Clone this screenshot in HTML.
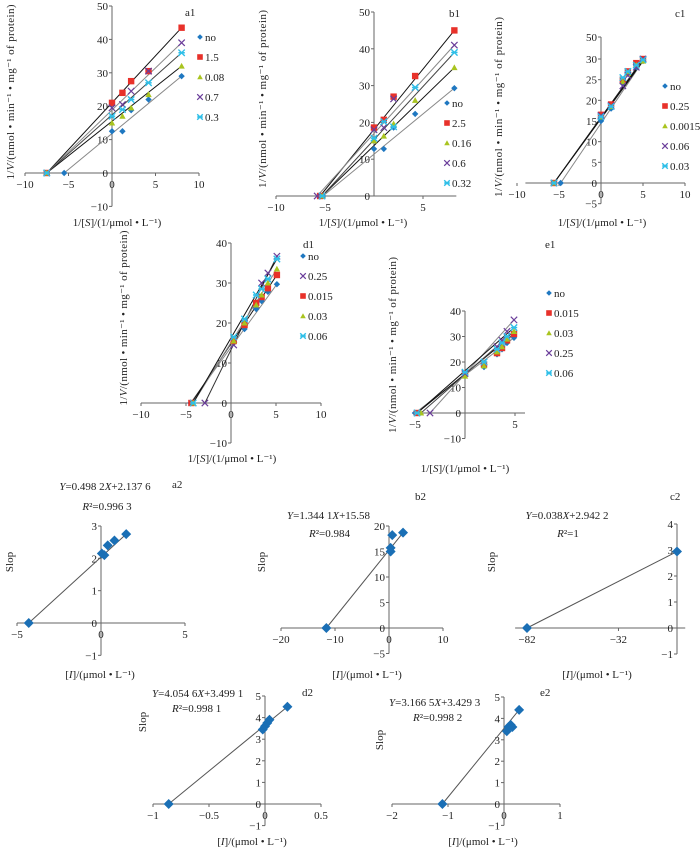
<!DOCTYPE html>
<html><head><meta charset="utf-8"><style>
html,body{margin:0;padding:0;background:#fff;}
svg{display:block;font-family:"Liberation Serif","Noto Serif CJK SC",serif;}
text{font-size:11px;fill:#222;}
</style></head><body>
<svg id="fig" width="700" height="850" viewBox="0 0 700 850" xmlns="http://www.w3.org/2000/svg">
<g id="static">
  <!-- panel titles -->
  <text x="185" y="16">a1</text>
  <text x="449" y="17">b1</text>
  <text x="675" y="17">c1</text>
  <text x="303" y="248">d1</text>
  <text x="545" y="248">e1</text>
  <text x="172" y="488">a2</text>
  <text x="415" y="500">b2</text>
  <text x="670" y="500">c2</text>
  <text x="302" y="696">d2</text>
  <text x="540" y="696">e2</text>

  <!-- y-axis titles (rotated) -->
  <text transform="translate(14,92) rotate(-90)" text-anchor="middle" textLength="175" lengthAdjust="spacing">1/<tspan font-style="italic">V</tspan>/(nmol • min⁻¹ • mg⁻¹ of protein)</text>
  <text transform="translate(266,99) rotate(-90)" text-anchor="middle" textLength="178" lengthAdjust="spacing">1/<tspan font-style="italic">V</tspan>/(nmol • min⁻¹ • mg⁻¹ of protein)</text>
  <text transform="translate(502,107) rotate(-90)" text-anchor="middle" textLength="180" lengthAdjust="spacing">1/<tspan font-style="italic">V</tspan>/(nmol • min⁻¹ • mg⁻¹ of protein)</text>
  <text transform="translate(127,318) rotate(-90)" text-anchor="middle" textLength="175" lengthAdjust="spacing">1/<tspan font-style="italic">V</tspan>/(nmol • min⁻¹ • mg⁻¹ of protein)</text>
  <text transform="translate(396,345) rotate(-90)" text-anchor="middle" textLength="176" lengthAdjust="spacing">1/<tspan font-style="italic">V</tspan>/(nmol • min⁻¹ • mg⁻¹ of protein)</text>

  <!-- x-axis titles -->
  <text x="117" y="226" text-anchor="middle">1/[<tspan font-style="italic">S</tspan>]/(1/μmol • L⁻¹)</text>
  <text x="363" y="226" text-anchor="middle">1/[<tspan font-style="italic">S</tspan>]/(1/μmol • L⁻¹)</text>
  <text x="602" y="226" text-anchor="middle">1/[<tspan font-style="italic">S</tspan>]/(1/μmol • L⁻¹)</text>
  <text x="232" y="462" text-anchor="middle">1/[<tspan font-style="italic">S</tspan>]/(1/μmol • L⁻¹)</text>
  <text x="465" y="472" text-anchor="middle">1/[<tspan font-style="italic">S</tspan>]/(1/μmol • L⁻¹)</text>
  <text x="100" y="678" text-anchor="middle">[<tspan font-style="italic">I</tspan>]/(μmol • L⁻¹)</text>
  <text x="367" y="678" text-anchor="middle">[<tspan font-style="italic">I</tspan>]/(μmol • L⁻¹)</text>
  <text x="597" y="678" text-anchor="middle">[<tspan font-style="italic">I</tspan>]/(μmol • L⁻¹)</text>
  <text x="252" y="845" text-anchor="middle">[<tspan font-style="italic">I</tspan>]/(μmol • L⁻¹)</text>
  <text x="483" y="845" text-anchor="middle">[<tspan font-style="italic">I</tspan>]/(μmol • L⁻¹)</text>

  <!-- Slop labels -->
  <text transform="translate(13,562) rotate(-90)" text-anchor="middle">Slop</text>
  <text transform="translate(265,562) rotate(-90)" text-anchor="middle">Slop</text>
  <text transform="translate(495,562) rotate(-90)" text-anchor="middle">Slop</text>
  <text transform="translate(146,722) rotate(-90)" text-anchor="middle">Slop</text>
  <text transform="translate(383,740) rotate(-90)" text-anchor="middle">Slop</text>

  <!-- equations -->
  <text x="105" y="490" text-anchor="middle"><tspan font-style="italic">Y</tspan>=0.498 2<tspan font-style="italic">X</tspan>+2.137 6</text>
  <text x="107" y="510" text-anchor="middle"><tspan font-style="italic">R</tspan>²=0.996 3</text>
  <text x="287" y="519"><tspan font-style="italic">Y</tspan>=1.344 1<tspan font-style="italic">X</tspan>+15.58</text>
  <text x="309" y="537"><tspan font-style="italic">R</tspan>²=0.984</text>
  <text x="567" y="519" text-anchor="middle"><tspan font-style="italic">Y</tspan>=0.038<tspan font-style="italic">X</tspan>+2.942 2</text>
  <text x="568" y="537" text-anchor="middle"><tspan font-style="italic">R</tspan>²=1</text>
  <text x="152" y="697"><tspan font-style="italic">Y</tspan>=4.054 6<tspan font-style="italic">X</tspan>+3.499 1</text>
  <text x="172" y="712"><tspan font-style="italic">R</tspan>²=0.998 1</text>
  <text x="389" y="706"><tspan font-style="italic">Y</tspan>=3.166 5<tspan font-style="italic">X</tspan>+3.429 3</text>
  <text x="413" y="721"><tspan font-style="italic">R</tspan>²=0.998 2</text>
</g>
<g id="plots"></g>
</svg>
<script>
// ===== data =====
// a1
const a1Names = ["no","1.5","0.08","0.7","0.3"];
const a1X = [0,1.2,2.2,4.2,8];
const a1Intercepts = [-5.5,-7.5,-7.5,-7.5,-7.5];
const a1No = [12.5,12.5,18.8,22,29];
const a1S15 = [21,24,27.5,30.5,43.5];
const a1S008 = [15,17,19.5,23.5,32];
const a1S07 = [19.5,20.5,24.5,30.5,39];
const a1S03 = [17,19,22,27,36];
// b1
const b1Names = ["no","2.5","0.16","0.6","0.32"];
const b1X = [0,1,2,4.2,8.2];
const b1Intercepts = [-5.2,-5.5,-5.3,-5.8,-5.3];
const b1No = [12.8,12.8,18.6,22.3,29.3];
const b1S25 = [18.6,20.7,27,32.6,45];
const b1S016 = [15,16.3,19.6,26,34.9];
const b1S06 = [18,18.6,26.4,29.5,41];
const b1S032 = [15.7,20.2,18.8,29.5,39];
// c1
const c1Names = ["no","0.25","0.0015","0.06","0.03"];
const c1X = [0,1.2,2.6,3.2,4.2,5];
const c1Intercepts = [-4.8,-5.6,-5.6,-5.6,-5.6];
const c1No = [15,18,24,26.5,28,29.5];
const c1S025 = [16.5,19,25,27,29,30];
const c1S0015 = [16,18.5,24.5,26.5,28.5,29.5];
const c1S006 = [16.3,18.7,23.5,26,28,30];
const c1S003 = [16,18.5,25.5,27,28.5,29.8];
// d1
const d1Names = ["no","0.25","0.015","0.03","0.06"];
const d1X = [0.3,1.5,2.8,3.4,4.1,5.1];
const d1Intercepts = [-4.5,-2.9,-4.4,-4.2,-4.2];
const d1No = [15,18.5,23.5,25.5,27.8,29.7];
const d1S025 = [14.5,20,24.5,30,32.5,36.7];
const d1S0015 = [15.5,19.5,25,26.5,28.7,32];
const d1S003 = [15.5,20,24.5,27,30,33.5];
const d1S006 = [16.5,21,27,28.5,31,36];
// e1
const e1Names = ["no","0.015","0.03","0.25","0.06"];
const e1X = [0,1.9,3.2,3.7,4.2,4.9];
const e1Intercepts = [-5,-4.8,-4.4,-3.5,-4.8];
const e1No = [15.5,18,23,25,27.5,29.5];
const e1S0015 = [15.5,19,23.5,25.5,28.5,31];
const e1S003 = [14.5,18.5,24,26,29,32];
const e1S025 = [15.5,20,26,28.5,32,36.5];
const e1S006 = [16,20,25,27.5,30,33.5];
// secondary plots
const a2X = [-4.3,0.05,0.2,0.4,0.8,1.5];
const a2Y = [0,2.15,2.1,2.4,2.55,2.75];
const b2X = [-11.6,0.3,0.3,0.6,2.6];
const b2Y = [0,15,15.7,18.2,18.7];
const c2X = [-82,0];
const c2Y = [0,2.94];
const d2X = [-0.86,-0.02,0,0.02,0.04,0.2];
const d2Y = [0,3.45,3.6,3.75,3.9,4.5];
const e2X = [-1.1,0.05,0.08,0.12,0.15,0.27];
const e2Y = [0,3.4,3.6,3.7,3.6,4.4];

// ===== drawing helpers =====
const NS = "http://www.w3.org/2000/svg";
const root = document.getElementById("plots");
function lin(d0,d1,p0,p1){ return v => p0 + (v-d0)*(p1-p0)/(d1-d0); }
function mk(tag, attrs, parent){
  const e = document.createElementNS(NS, tag);
  for (const k in attrs) e.setAttribute(k, attrs[k]);
  (parent||root).appendChild(e);
  return e;
}
const COLORS = {diamond:"#1f78c1", square:"#e8312a", triangle:"#a9c41f", cross:"#6a3d9a", star:"#2fbfe8"};
function marker(g, type, x, y, s){
  s = s || 3.2;
  let e;
  if (type==="diamond"){
    e = mk("polygon",{points:`${x},${y-s} ${x+s},${y} ${x},${y+s} ${x-s},${y}`, fill:COLORS.diamond}, g);
  } else if (type==="square"){
    e = mk("rect",{x:x-s,y:y-s,width:2*s,height:2*s,fill:COLORS.square}, g);
  } else if (type==="triangle"){
    e = mk("polygon",{points:`${x},${y-s} ${x+s},${y+s*0.8} ${x-s},${y+s*0.8}`, fill:COLORS.triangle}, g);
  } else if (type==="cross"){
    e = mk("path",{d:`M${x-s},${y-s}L${x+s},${y+s}M${x-s},${y+s}L${x+s},${y-s}`, stroke:COLORS.cross, "stroke-width":1.2, fill:"none"}, g);
  } else {
    e = mk("path",{d:`M${x-s},${y-s}L${x+s},${y+s}M${x-s},${y+s}L${x+s},${y-s}M${x-s},${y}L${x+s},${y}`, stroke:COLORS.star, "stroke-width":1.4, fill:"none"}, g);
  }
  
  
  return e;
}
function axes(g, sx, sy, xr, yr, xticks, yticks, opt){
  opt = opt || {};
  const x0 = sx(0 < xr[0] || 0 > xr[1] ? xr[1] : 0);
  const yx = opt.yAxisX !== undefined ? opt.yAxisX : sx(0);
  const xa = mk("line",{x1:sx(xr[0]),x2:sx(xr[1]),y1:sy(0),y2:sy(0),stroke:"#666","stroke-width":1}, g);
  
  
  const ya = mk("line",{x1:yx,x2:yx,y1:opt.yTopPx!==undefined?opt.yTopPx:sy(yr[1]),y2:sy(yr[0]),stroke:"#666","stroke-width":1}, g);
  
  
  xticks.forEach(v=>{
    const px = sx(v);
    mk("line",{x1:px,x2:px,y1:sy(0),y2:sy(0)+3,stroke:"#666"}, g);
    const t = mk("text",{x:px,y:sy(0)+15,"text-anchor":"middle"}, g);
    t.textContent = (v<0?"−":"") + Math.abs(v);
    
    
  });
  yticks.forEach(v=>{
    const py = sy(v);
    mk("line",{x1:yx-3,x2:yx,y1:py,y2:py,stroke:"#666"}, g);
    const t = mk("text",{x:yx-4,y:py+4,"text-anchor":"end"}, g);
    t.textContent = (v<0?"−":"") + Math.abs(v);
    
    
  });
}
function lbPanel(id, sx, sy, names, xs, intercepts, series, types, legendX, legendY0, legendDy, lineColors){
  const g = mk("g",{});
  
  
  series.forEach((ys,i)=>{
    const lastX = xs[xs.length-1], lastY = ys[ys.length-1];
    const l = mk("line",{x1:sx(intercepts[i]),y1:sy(0),x2:sx(lastX),y2:sy(lastY),stroke:lineColors[i],"stroke-width":1}, g);
    
    
  });
  series.forEach((ys,i)=>{
    marker(g, types[i], sx(intercepts[i]), sy(0));
    ys.forEach((y,j)=>marker(g, types[i], sx(xs[j]), sy(y)));
  });
  names.forEach((n,i)=>{
    const lg = mk("g",{}, g);
    
    
    const y = legendY0 + i*legendDy;
    marker(lg, types[i], legendX, y, 2.8);
    const t = mk("text",{x:legendX+5,y:y+4}, lg);
    t.textContent = n;
  });
  return g;
}
function secPanel(id, sx, sy, xs, ys, fitFrom, fitTo){
  const g = mk("g",{});
  
  
  const l = mk("line",{x1:sx(fitFrom[0]),y1:sy(fitFrom[1]),x2:sx(fitTo[0]),y2:sy(fitTo[1]),stroke:"#555","stroke-width":1}, g);
  
  
  xs.forEach((x,i)=>{
    const p = marker(g, "diamond", sx(x), sy(ys[i]), 5);
    p.setAttribute('fill', '#1a6fb5');
  });
  return g;
}
const T5 = ["diamond","square","triangle","cross","star"];
const LC = ["#888","#111","#111","#888","#444"];

// a1
{ const sx = lin(0,10,112,199), sy = lin(0,50,173,6);
  const g = mk("g",{});  
  axes(g, sx, sy, [-10,10], [-10,50], [-10,-5,0,5,10], [-10,0,10,20,30,40,50]);
  lbPanel("a1", sx, sy, a1Names, a1X, a1Intercepts, [a1No,a1S15,a1S008,a1S07,a1S03], T5, 200, 37, 20, LC); }
// b1
{ const sx = lin(0,5,374,423), sy = lin(0,50,196,12);
  const g = mk("g",{});  
  axes(g, sx, sy, [-10,8.4], [0,50], [-10,-5,5], [0,10,20,30,40,50]);
  lbPanel("b1", sx, sy, b1Names, b1X, b1Intercepts, [b1No,b1S25,b1S016,b1S06,b1S032], ["diamond","square","triangle","cross","star"], 447, 103, 20, LC); }
// c1
{ const sx = lin(0,5,601,643), sy = lin(0,30,183,59);
  const g = mk("g",{});  
  axes(g, sx, sy, [-9,10], [-5,30], [-10,-5,0,5,10], [-5,0,5,10,15,20,25,30], {yTopPx:37});
  mk("line",{x1:598,x2:601,y1:37,y2:37,stroke:"#666"}, g);
  const t = mk("text",{x:597,y:41,"text-anchor":"end"}, g); t.textContent = "50";
   
  lbPanel("c1", sx, sy, c1Names, c1X, c1Intercepts, [c1No,c1S025,c1S0015,c1S006,c1S003], T5, 665, 86, 20, ["#888","#111","#111","#333","#111"]); }
// d1
{ const sx = lin(0,5,231,276), sy = lin(0,40,403,243);
  const g = mk("g",{});  
  axes(g, sx, sy, [-10,10], [-10,40], [-10,-5,0,5,10], [-10,0,10,20,30,40]);
  lbPanel("d1", sx, sy, d1Names, d1X, d1Intercepts, [d1No,d1S025,d1S0015,d1S003,d1S006], ["diamond","cross","square","triangle","star"], 303, 256, 20, ["#888","#333","#111","#888","#111"]); }
// e1
{ const sx = lin(0,5,465,515), sy = lin(0,40,413,311);
  const g = mk("g",{});  
  axes(g, sx, sy, [-5.3,6], [-10,40], [-5,5], [-10,0,10,20,30,40]);
  lbPanel("e1", sx, sy, e1Names, e1X, e1Intercepts, [e1No,e1S0015,e1S003,e1S025,e1S006], ["diamond","square","triangle","cross","star"], 549, 293, 20, ["#888","#111","#444","#888","#111"]); }
// a2
{ const sx = lin(0,5,101,185), sy = lin(0,3,623,526);
  const g = mk("g",{});  
  axes(g, sx, sy, [-5,5], [-1,3], [-5,0,5], [-1,0,1,2,3]);
  secPanel("a2", sx, sy, a2X, a2Y, [a2X[0],a2Y[0]], [a2X[a2X.length-1],a2Y[a2Y.length-1]]); }
// b2
{ const sx = lin(0,10,389,443), sy = lin(0,20,628,526);
  const g = mk("g",{});  
  axes(g, sx, sy, [-20,10], [-5,20], [-20,-10,0,10], [-5,0,5,10,15,20]);
  secPanel("b2", sx, sy, b2X, b2Y, [b2X[0],b2Y[0]], [b2X[b2X.length-1],b2Y[b2Y.length-1]]); }
// c2
{ const sx = lin(-82,0,527,677), sy = lin(0,4,628,524);
  const g = mk("g",{});  
  axes(g, sx, sy, [-88.5,4.5], [-1,4], [-82,-32], [-1,0,1,2,3,4], {yAxisX:677});
  secPanel("c2", sx, sy, c2X, c2Y, [c2X[0],c2Y[0]], [c2X[1],c2Y[1]]); }
// d2
{ const sx = lin(0,0.5,265,321), sy = lin(0,5,804,696);
  const g = mk("g",{});  
  axes(g, sx, sy, [-1,0.5], [-1,5], [-1,-0.5,0,0.5], [-1,0,1,2,3,4,5]);
  secPanel("d2", sx, sy, d2X, d2Y, [d2X[0],d2Y[0]], [d2X[d2X.length-1],d2Y[d2Y.length-1]]); }
// e2
{ const sx = lin(0,1,504,560), sy = lin(0,5,804,697);
  const g = mk("g",{});  
  axes(g, sx, sy, [-2,1], [-1,5], [-2,-1,0,1], [-1,0,1,2,3,4,5]);
  secPanel("e2", sx, sy, e2X, e2Y, [e2X[0],e2Y[0]], [e2X[e2X.length-1],e2Y[e2Y.length-1]]); }
</script>
</body></html>
